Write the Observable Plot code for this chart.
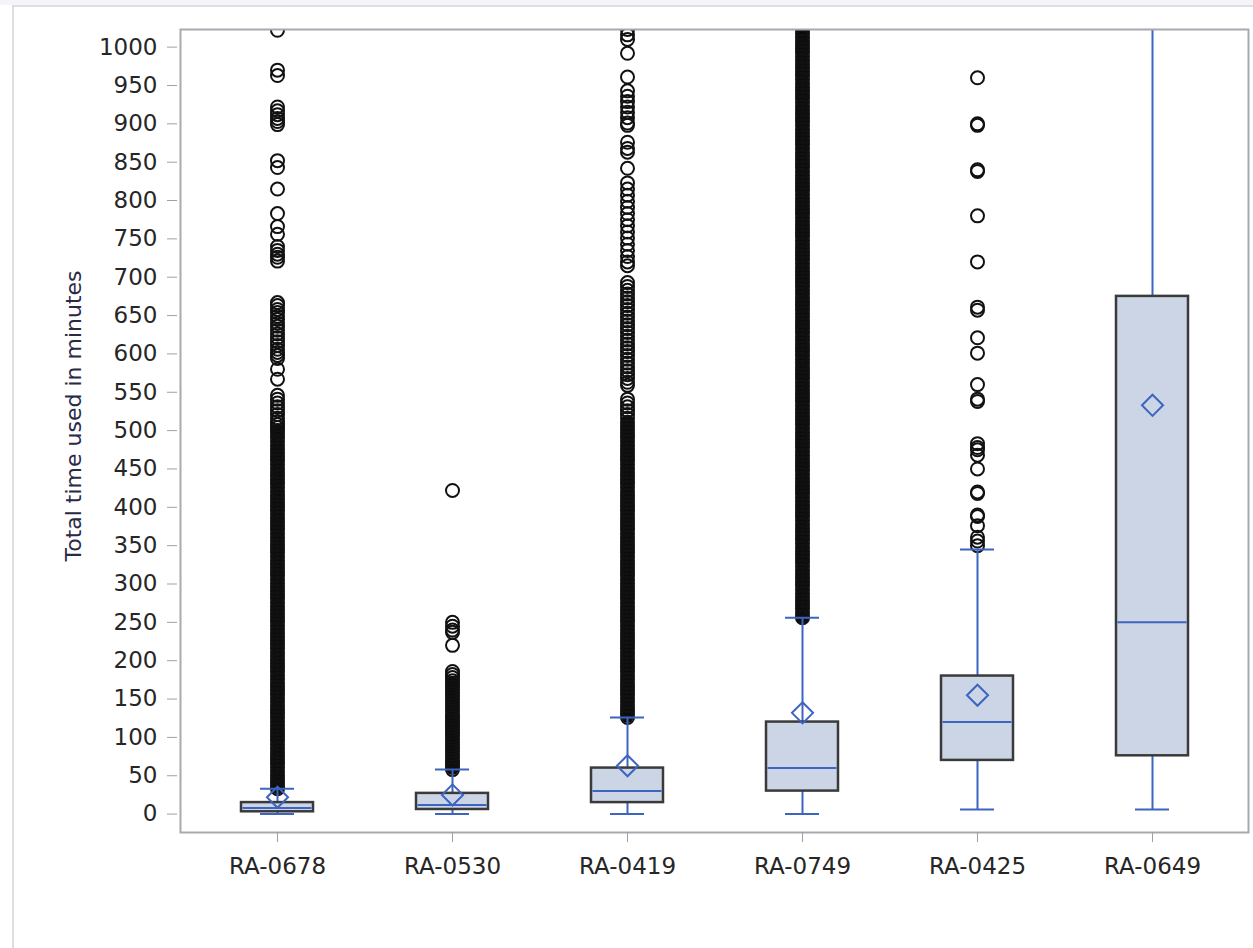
<!DOCTYPE html>
<html>
<head>
<meta charset="utf-8">
<script src="https://cdn.jsdelivr.net/npm/d3@7"></script>
<script src="https://cdn.jsdelivr.net/npm/@observablehq/plot@0.6"></script>
<style>
  html, body { margin: 0; padding: 0; background: #ffffff; }
  #page { position: relative; width: 1253px; height: 948px; overflow: hidden; background: #ffffff; }
  #topstrip { position: absolute; left: 0; top: 0; width: 1253px; height: 5px; background: #f3f5fb; }
  #border { position: absolute; left: 12px; top: 5px; width: 1253px; height: 960px; border-top: 2px solid #dcdee3; border-left: 2px solid #dcdee3; box-sizing: border-box; }
  #chart { position: absolute; left: 0; top: 0; }
</style>
</head>
<body>
<div id="page">
  <div id="topstrip"></div>
  <div id="border"></div>
  <div id="chart"></div>
</div>
<script>
// ---- data ----
const categories = ["RA-0678", "RA-0530", "RA-0419", "RA-0749", "RA-0425", "RA-0649"];
const whiskerLow  = [0, 0, 0, 0, 6, 6];
const q1          = [3, 6, 15, 30, 70, 76];
const median      = [8, 12, 30, 60, 120, 250];
const q3          = [15, 27, 60, 120, 180, 675];
const whiskerHigh = [33, 58, 126, 256, 345, 1100];
const means       = [22, 25, 63, 132, 155, 533];
const yTicks = [0, 50, 100, 150, 200, 250, 300, 350, 400, 450, 500, 550, 600, 650, 700, 750, 800, 850, 900, 950, 1000];

// individual outliers (minutes)
const out0678 = [1022, 970, 963, 922, 917, 912, 907, 903, 899, 852, 843, 815, 783, 766, 756, 740, 735, 730, 726, 721,
  667, 663, 658, 654, 649, 645, 640, 636, 631, 626, 621, 616, 611, 606, 602, 598, 594, 580, 567,
  546, 541, 536, 531, 526, 521, 516, 512, 508, 504, 500, 496, 491, 486, 481, 476, 471, 466, 461, 456, 451,
  446, 441, 436, 431, 426, 421, 416, 411, 406, 401, 396, 391, 386, 381, 376, 371, 366, 361, 356, 351,
  346, 341, 336, 331, 326, 321, 316, 311, 306, 301, 296, 291, 286, 281, 276, 271, 266, 261, 256, 251,
  246, 241, 236, 231, 226, 221, 216, 211, 206, 201, 196, 191, 186, 181, 176, 171, 166, 161, 156, 151,
  146, 141, 136, 131, 126, 121, 116, 111, 106, 101, 96, 91, 86, 81, 76, 71, 66, 61, 56, 51, 46, 41, 36, 33];
const out0530 = [422, 250, 245, 240, 237, 220, 186, 182, 178, 174, 170, 166, 162, 158, 154, 150, 146, 142, 138, 134,
  130, 126, 122, 118, 114, 110, 106, 102, 98, 94, 90, 86, 82, 78, 74, 70, 66, 62, 58];
const out0419 = [1023, 1016, 1010, 992, 961, 943, 936, 929, 922, 915, 908, 901, 898, 876, 868, 863, 842,
  823, 815, 807, 799, 791, 783, 775, 767, 759, 751, 743, 735, 727, 720, 715,
  693, 688, 683, 678, 673, 668, 663, 658, 653, 648, 643, 638, 633, 628, 623, 618, 613, 608, 603, 598, 593, 588,
  583, 578, 573, 568, 563, 559, 541, 536, 531, 526, 521, 516, 511,
  506, 501, 496, 491, 486, 481, 476, 471, 466, 461, 456, 451, 446, 441, 436, 431, 426, 421, 416, 411,
  406, 401, 396, 391, 386, 381, 376, 371, 366, 361, 356, 351, 346, 341, 336, 331, 326, 321, 316, 311,
  306, 301, 296, 291, 286, 281, 276, 271, 266, 261, 256, 251, 246, 241, 236, 231, 226, 221, 216, 211,
  206, 201, 196, 191, 186, 181, 176, 171, 166, 161, 156, 151, 146, 141, 136, 131, 126];
const out0749 = [1023, 1018, 1013, 1008, 1003, 998, 993, 988, 983, 978, 973, 968, 963, 958, 953, 948, 943, 938, 933, 928,
  923, 918, 913, 908, 903, 898, 893, 888, 883, 878, 873, 868, 863, 858, 853, 848, 843, 838, 833, 828,
  823, 818, 813, 808, 803, 798, 793, 788, 783, 778, 773, 768, 763, 758, 753, 748, 743, 738, 733, 728,
  723, 718, 713, 708, 703, 698, 693, 688, 683, 678, 673, 668, 663, 658, 653, 648, 643, 638, 633, 628,
  623, 618, 613, 608, 603, 598, 593, 588, 583, 578, 573, 568, 563, 558, 553, 548, 543, 538, 533, 528,
  523, 518, 513, 508, 503, 498, 493, 488, 483, 478, 473, 468, 463, 458, 453, 448, 443, 438, 433, 428,
  423, 418, 413, 408, 403, 398, 393, 388, 383, 378, 373, 368, 363, 358, 353, 348, 343, 338, 333, 328,
  323, 318, 313, 308, 303, 298, 293, 288, 283, 278, 273, 268, 263, 258, 256];
const out0425 = [960, 900, 898, 840, 838, 780, 720, 661, 657, 621, 601, 560, 541, 538, 483, 478, 475, 468, 450,
  420, 418, 390, 388, 376, 361, 356, 350];
const out0649 = [];

// stretches of the outlier columns where the points overplot into a solid band (from, to)
const solidFrom = [33, 58, 126, 256, null, null];
const solidTo   = [500, 172, 512, 1023, null, null];

const yLabel = "Total time used in minutes";

// ---- tables built from the arrays ----
const stats = categories.map((c, i) => ({
  cat: c, lo: whiskerLow[i], q1: q1[i], med: median[i], q3: q3[i], hi: whiskerHigh[i], mean: means[i]
}));
const outlierLists = [out0678, out0530, out0419, out0749, out0425, out0649];
const outliers = outlierLists.flatMap((arr, i) => arr.map(v => ({cat: categories[i], v})));
const caps = stats.flatMap(d => [{cat: d.cat, v: d.lo}, {cat: d.cat, v: d.hi}]);
const solid = categories.map((c, i) => ({cat: c, from: solidFrom[i], to: solidTo[i]})).filter(d => d.from != null);

const blue = "#3d64c0";
const font = "DejaVu Sans";

const chart = Plot.plot({
  width: 1253,
  height: 948,
  marginLeft: 180,
  marginRight: 5,
  marginTop: 29,
  marginBottom: 116,
  style: {background: "transparent", fontFamily: font, color: "#333"},
  x: {domain: categories, paddingInner: 0.59, paddingOuter: 0.34, label: null},
  y: {domain: [-24, 1023], label: null},
  marks: [
    Plot.ruleX(solid, {x: "cat", y1: "from", y2: "to", stroke: "#0a0a0a", strokeWidth: 12, strokeLinecap: "round", clip: true}),
    Plot.dot(outliers, {x: "cat", y: "v", r: 6.5, stroke: "#111", strokeWidth: 2, fill: "none", clip: true}),
    Plot.ruleX(stats, {x: "cat", y1: "lo", y2: "hi", stroke: blue, strokeWidth: 2, clip: true}),
    Plot.tickY(caps, {x: "cat", y: "v", stroke: blue, strokeWidth: 2, insetLeft: 19, insetRight: 19, clip: true}),
    Plot.barY(stats, {x: "cat", y1: "q1", y2: "q3", fill: "#cbd5e6", stroke: "#3a3a3a", strokeWidth: 2.5}),
    Plot.tickY(stats, {x: "cat", y: "med", stroke: blue, strokeWidth: 2, insetLeft: 1.5, insetRight: 1.5}),
    Plot.dot(stats, {x: "cat", y: "mean", symbol: "diamond2", r: 9.5, stroke: blue, strokeWidth: 2, fill: "none"}),
    Plot.frame({stroke: "#a6aaaf", strokeWidth: 2}),
    Plot.axisY({ticks: yTicks, tickFormat: d => String(d), tickSize: 10, tickPadding: 10, dx: -3, stroke: "#9da1a6", fill: "#262626", fontSize: 23, label: null}),
    Plot.axisX({tickSize: 10, tickPadding: 15, stroke: "#9da1a6", fill: "#262626", fontSize: 23, label: null}),
    Plot.text([yLabel], {frameAnchor: "left", textAnchor: "middle", rotate: -90, dx: -107, dy: -15, fill: "#2a2a48", fontSize: 22, text: d => d})
  ]
});
document.getElementById("chart").appendChild(chart);
</script>
</body>
</html>
